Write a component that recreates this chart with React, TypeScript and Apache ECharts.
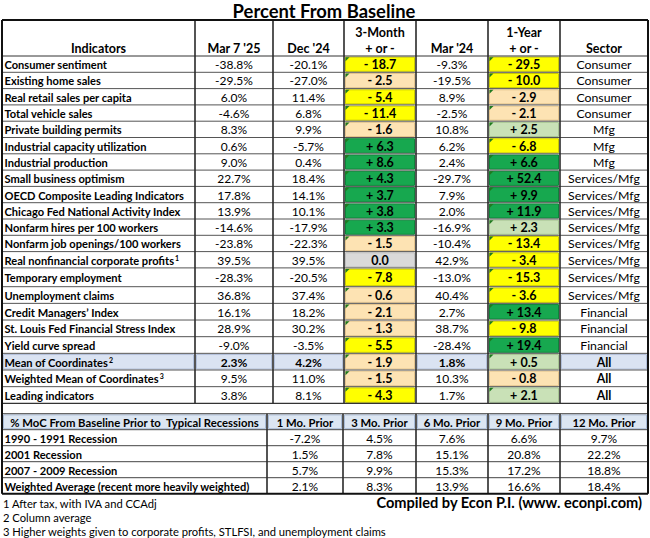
import React, { useEffect, useRef } from "react";
import * as echarts from "echarts";

// ---------------- DATA ----------------
const chartTitle = "Percent From Baseline";
const headerTop = ["", "", "", "3-Month", "", "1-Year", ""];
const headerBottom = ["Indicators", "Mar 7 '25", "Dec '24", "+ or -", "Mar '24", "+ or -", "Sector"];

const indicators = [
  "Consumer sentiment",
  "Existing home sales",
  "Real retail sales per capita",
  "Total vehicle sales",
  "Private building permits",
  "Industrial capacity utilization",
  "Industrial production",
  "Small business optimism",
  "OECD Composite Leading Indicators",
  "Chicago Fed National Activity Index",
  "Nonfarm hires per 100 workers",
  "Nonfarm job openings/100 workers",
  "Real nonfinancial corporate profits",
  "Temporary employment",
  "Unemployment claims",
  "Credit Managers\u2019 Index",
  "St. Louis Fed Financial Stress Index",
  "Yield curve spread",
  "Mean of Coordinates",
  "Weighted Mean of Coordinates",
  "Leading indicators",
];
const indicatorNotes = ["", "", "", "", "", "", "", "", "", "", "", "", "1", "", "", "", "", "", "2", "3", ""];

const mar7_25 = [-38.8, -29.5, 6.0, -4.6, 8.3, 0.6, 9.0, 22.7, 17.8, 13.9, -14.6, -23.8, 39.5, -28.3, 36.8, 16.1, 28.9, -9.0, 2.3, 9.5, 3.8];
const dec24 = [-20.1, -27.0, 11.4, 6.8, 9.9, -5.7, 0.4, 18.4, 14.1, 10.1, -17.9, -22.3, 39.5, -20.5, 37.4, 18.2, 30.2, -3.5, 4.2, 11.0, 8.1];
const threeMonth = [-18.7, -2.5, -5.4, -11.4, -1.6, 6.3, 8.6, 4.3, 3.7, 3.8, 3.3, -1.5, 0.0, -7.8, -0.6, -2.1, -1.3, -5.5, -1.9, -1.5, -4.3];
const mar24 = [-9.3, -19.5, 8.9, -2.5, 10.8, 6.2, 2.4, -29.7, 7.9, 2.0, -16.9, -10.4, 42.9, -13.0, 40.4, 2.7, 38.7, -28.4, 1.8, 10.3, 1.7];
const oneYear = [-29.5, -10.0, -2.9, -2.1, 2.5, -6.8, 6.6, 52.4, 9.9, 11.9, 2.3, -13.4, -3.4, -15.3, -3.6, 13.4, -9.8, 19.4, 0.5, -0.8, 2.1];
const sectors = [
  "Consumer", "Consumer", "Consumer", "Consumer", "Mfg", "Mfg", "Mfg",
  "Services/Mfg", "Services/Mfg", "Services/Mfg", "Services/Mfg", "Services/Mfg", "Services/Mfg", "Services/Mfg", "Services/Mfg",
  "Financial", "Financial", "Financial", "All", "All", "All",
];
// cells without the small green corner mark
const noMark3M = [12];
const noMark1Y = [19];

const recessionHeader = "% MoC From Baseline Prior to  Typical Recessions";
const priorHeaders = ["1 Mo. Prior", "3 Mo. Prior", "6 Mo. Prior", "9 Mo. Prior", "12 Mo. Prior"];
const recessions = ["1990 - 1991 Recession", "2001 Recession", "2007 - 2009 Recession", "Weighted Average (recent more heavily weighted)"];
const prior1 = [-7.2, 1.5, 5.7, 2.1];
const prior3 = [4.5, 7.8, 9.9, 8.3];
const prior6 = [7.6, 15.1, 15.3, 13.9];
const prior9 = [6.6, 20.8, 17.2, 16.6];
const prior12 = [9.7, 22.2, 18.8, 18.4];

const footnotes = [
  "1 After tax, with IVA and CCAdj",
  "2 Column average",
  "3 Higher weights given to corporate profits, STLFSI, and unemployment claims",
];
const credit = "Compiled by Econ P.I. (www. econpi.com)";

// ---------------- LAYOUT / STYLE ----------------
const W = 650;
const H = 538;
const FONT = "Lato, 'Liberation Sans', sans-serif";
const colEdges = [2, 195, 273, 344, 416, 488, 560, 648];
const recColEdges = [2, 267, 343, 416, 488, 560, 648];
const tableTop = 20;
const headBottom = 56;
const rowHeights = [
  16.3, 16.3, 16.3, 16.3, 16.3, 16.3, 16.3, 16.3, 16.3, 16.3, 16.3, 16.3, 16.3,
  18.8, 16.66, 16.66, 16.66, 16.66, 16.66, 16.66, 16.66,
];
const recTop = 413.7;
const recRowH = 16;

const BODY_SIZE = 12;
const NAME_SIZE = 11.1;

function cellColor(v: number) {
  if (v === 0) return { fill: "#D9D9D9", stroke: "#BFBFBF" };
  if (v <= -3) return { fill: "#FFFF00", stroke: "#C9C900" };
  if (v < 0) return { fill: "#FDE3B3", stroke: "#E4C48C" };
  if (v < 3) return { fill: "#C9E1B7", stroke: "#A7C592" };
  return { fill: "#17A84F", stroke: "#0E853A" };
}
const BLUE = { fill: "#DAE3F2", stroke: "#B3C1DB" };

const pct = (v: number) => v.toFixed(1) + "%";
const chg = (v: number) => (v === 0 ? "0.0" : (v < 0 ? "- " : "+ ") + Math.abs(v).toFixed(1));

type Cell = {
  x0: number; x1: number; y0: number; y1: number;
  fill?: string; stroke?: string;
  text?: string; note?: string;
  align?: "left" | "center" | "right";
  bold?: boolean; size?: number; mark?: boolean;
};

type Rule = { x0: number; y0: number; x1: number; y1: number; w: number; c: string };

function buildOption() {
  const rowTops: number[] = [headBottom];
  rowHeights.forEach((h, i) => rowTops.push(rowTops[i] + h));
  const mainBottom = rowTops[rowTops.length - 1];

  const cells: Cell[] = [];
  // main header
  for (let j = 0; j < 7; j++) {
    if (headerTop[j]) cells.push({ x0: colEdges[j], x1: colEdges[j + 1], y0: 24, y1: 40, text: headerTop[j], bold: true, size: 12.5 });
    cells.push({ x0: colEdges[j], x1: colEdges[j + 1], y0: 40, y1: headBottom, text: headerBottom[j], bold: true, size: 12.5 });
  }
  const numCols = [mar7_25, dec24, threeMonth, mar24, oneYear];
  for (let r = 0; r < indicators.length; r++) {
    const y0 = rowTops[r];
    const y1 = rowTops[r + 1];
    const isMean = r === 18;
    cells.push({
      x0: colEdges[0], x1: colEdges[1], y0, y1,
      ...(isMean ? BLUE : {}),
      text: indicators[r], note: indicatorNotes[r], align: "left", bold: true, size: NAME_SIZE,
    });
    numCols.forEach((arr, k) => {
      const j = k + 1;
      const isChg = k === 2 || k === 4;
      const v = arr[r];
      if (isChg) {
        const noMark = k === 2 ? noMark3M : noMark1Y;
        cells.push({
          x0: colEdges[j], x1: colEdges[j + 1], y0, y1,
          ...cellColor(v),
          text: chg(v), bold: true, size: 12.5, mark: v !== 0 && noMark.indexOf(r) < 0,
        });
      } else {
        cells.push({
          x0: colEdges[j], x1: colEdges[j + 1], y0, y1,
          ...(isMean ? BLUE : {}),
          text: pct(v), bold: isMean, size: BODY_SIZE,
        });
      }
    });
    cells.push({
      x0: colEdges[6], x1: colEdges[7], y0, y1,
      ...(isMean ? BLUE : {}),
      text: sectors[r], bold: sectors[r] === "All", size: 12.3,
    });
  }
  // recession table
  const recHeads = [recessionHeader, ...priorHeaders];
  recHeads.forEach((t, j) => {
    cells.push({
      x0: recColEdges[j], x1: recColEdges[j + 1], y0: recTop, y1: recTop + recRowH,
      fill: "#DCE6F2", stroke: "#A8BBD6", text: t, bold: true, size: 11.3,
    });
  });
  const priorCols = [prior1, prior3, prior6, prior9, prior12];
  recessions.forEach((name, i) => {
    const y0 = recTop + recRowH * (i + 1);
    const y1 = y0 + recRowH;
    cells.push({ x0: recColEdges[0], x1: recColEdges[1], y0, y1, text: name, align: "left", bold: true, size: NAME_SIZE });
    priorCols.forEach((arr, k) => {
      cells.push({ x0: recColEdges[k + 1], x1: recColEdges[k + 2], y0, y1, text: pct(arr[i]), size: BODY_SIZE });
    });
  });

  // rules
  const rules: Rule[] = [];
  const recBottom = recTop + recRowH * 5;
  rules.push({ x0: colEdges[0], y0: headBottom, x1: colEdges[7], y1: headBottom, w: 1, c: "#333" });
  for (let r = 1; r < rowTops.length - 1; r++) {
    rules.push({ x0: colEdges[0], y0: rowTops[r], x1: colEdges[7], y1: rowTops[r], w: 1, c: "#555" });
  }
  rules.push({ x0: colEdges[0], y0: mainBottom, x1: colEdges[7], y1: mainBottom, w: 1.2, c: "#333" });
  for (let j = 1; j < 7; j++) {
    rules.push({ x0: colEdges[j], y0: tableTop, x1: colEdges[j], y1: mainBottom, w: 1.6, c: "#2a2a2a" });
  }
  for (let i = 0; i <= 4; i++) {
    const y = recTop + recRowH * i;
    rules.push({ x0: recColEdges[0], y0: y, x1: recColEdges[6], y1: y, w: 1, c: "#444" });
  }
  for (let j = 1; j < 6; j++) {
    rules.push({ x0: recColEdges[j], y0: recTop, x1: recColEdges[j], y1: recBottom, w: 1.6, c: "#2a2a2a" });
  }
  rules.push({ x0: colEdges[0], y0: tableTop, x1: colEdges[7], y1: tableTop, w: 2, c: "#111" });
  rules.push({ x0: colEdges[0], y0: recBottom, x1: colEdges[7], y1: recBottom, w: 2, c: "#111" });
  rules.push({ x0: colEdges[0], y0: tableTop, x1: colEdges[0], y1: recBottom, w: 2, c: "#111" });
  rules.push({ x0: colEdges[7], y0: tableTop, x1: colEdges[7], y1: recBottom, w: 2, c: "#111" });

  const cellRender = (_params: any, api: any) => {
    const c = cells[api.value(0)];
    const p0 = api.coord([c.x0, c.y0]);
    const p1 = api.coord([c.x1, c.y1]);
    const children: any[] = [];
    if (c.fill) {
      children.push({
        type: "rect",
        shape: { x: p0[0] + 1.5, y: p0[1] + 1.2, width: p1[0] - p0[0] - 3, height: p1[1] - p0[1] - 2.2 },
        style: { fill: c.fill, stroke: c.stroke, lineWidth: 1 },
      });
    }
    if (c.mark) {
      const x = p0[0] + 1.5;
      const y = p0[1] + 1.2;
      children.push({
        type: "polygon",
        shape: { points: [[x, y], [x + 4, y], [x, y + 4]] },
        style: { fill: "#1F7A1F" },
      });
    }
    if (c.text) {
      const size = c.size || BODY_SIZE;
      const weight = c.bold ? "bold" : "normal";
      const align = c.align || "center";
      const tx = align === "left" ? p0[0] + 2.5 : (p0[0] + p1[0]) / 2;
      const ty = (p0[1] + p1[1]) / 2 + 0.5;
      if (c.note) {
        children.push({
          type: "text",
          style: {
            text: `{m|${c.text}}{s|${c.note}}`,
            x: tx, y: ty, align, verticalAlign: "middle",
            rich: {
              m: { fontFamily: FONT, fontSize: size, fontWeight: weight, fill: "#000", color: "#000" },
              s: { fontFamily: FONT, fontSize: 7, fontWeight: "bold", fill: "#000", color: "#000", verticalAlign: "top", padding: [0, 0, 5, 1] },
            },
          },
        });
      } else {
        children.push({
          type: "text",
          style: {
            text: c.text, x: tx, y: ty, align, verticalAlign: "middle",
            font: `${weight} ${size}px ${FONT}`, fill: "#000",
          },
        });
      }
    }
    return { type: "group", children };
  };

  const ruleRender = (_params: any, api: any) => {
    const r = rules[api.value(0)];
    const p0 = api.coord([r.x0, r.y0]);
    const p1 = api.coord([r.x1, r.y1]);
    return {
      type: "line",
      shape: { x1: p0[0], y1: p0[1], x2: p1[0], y2: p1[1] },
      style: { stroke: r.c, lineWidth: r.w },
    };
  };

  return {
    animation: false,
    backgroundColor: "#fff",
    grid: { left: 0, right: 0, top: 0, bottom: 0 },
    xAxis: { type: "value", min: 0, max: W, show: false },
    yAxis: { type: "value", min: 0, max: H, inverse: true, show: false },
    graphic: [
      {
        type: "text",
        style: {
          text: chartTitle, x: W / 2 - 1, y: 10.8, align: "center", verticalAlign: "middle",
          font: `bold 18.4px ${FONT}`, fill: "#000",
        },
      },
      {
        type: "text",
        style: {
          text: credit, x: 642, y: 502, align: "right", verticalAlign: "middle",
          font: `bold 14.6px ${FONT}`, fill: "#000",
        },
      },
      ...footnotes.map((t, i) => ({
        type: "text",
        style: {
          text: t, x: 3, y: 503.3 + i * 14, align: "left", verticalAlign: "middle",
          font: `normal 11.2px ${FONT}`, fill: "#000",
        },
      })),
    ],
    series: [
      {
        type: "custom",
        name: "cells",
        coordinateSystem: "cartesian2d",
        clip: false,
        silent: true,
        data: cells.map((_, i) => [i, 0]),
        renderItem: cellRender,
      },
      {
        type: "custom",
        name: "rules",
        coordinateSystem: "cartesian2d",
        clip: false,
        silent: true,
        z: 3,
        data: rules.map((_, i) => [i, 0]),
        renderItem: ruleRender,
      },
    ],
  };
}

export default function App() {
  const ref = useRef<HTMLDivElement>(null);
  useEffect(() => {
    document.body.style.margin = "0";
    const chart = echarts.init(ref.current!, null, { renderer: "svg" });
    chart.setOption(buildOption() as any);
    return () => chart.dispose();
  }, []);
  return <div ref={ref} style={{ width: W, height: H }} />;
}
